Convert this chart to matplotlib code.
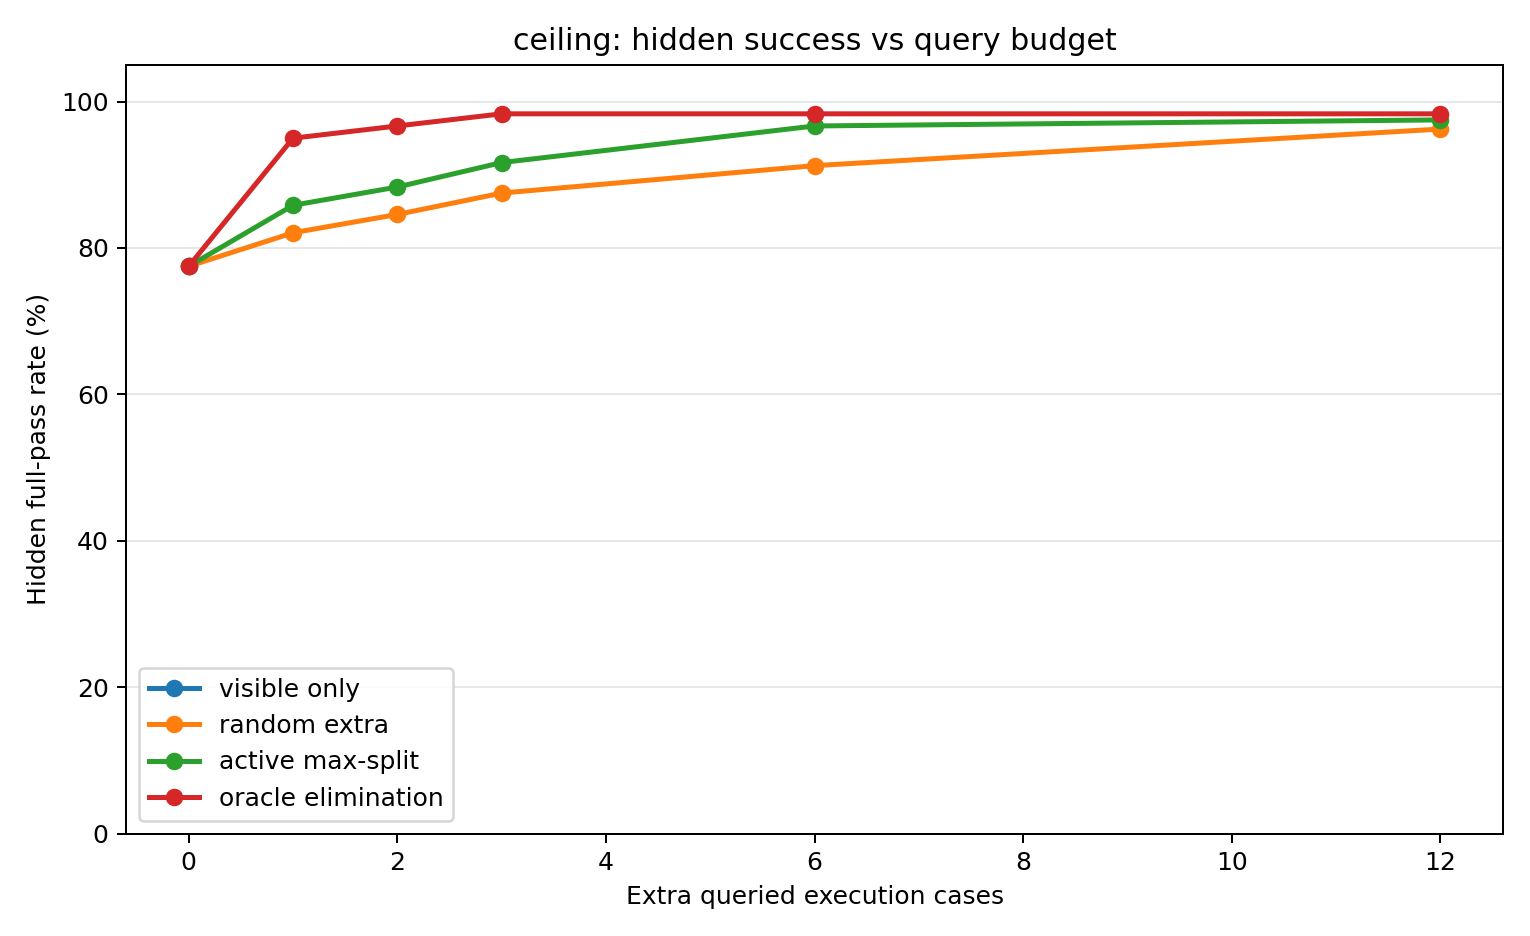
import matplotlib
matplotlib.use("Agg")
import matplotlib.pyplot as plt

budgets = [0, 1, 2, 3, 6, 12]
visible_x = [0]
visible_only = [77.5]
random_extra = [77.5, 82.08, 84.58, 87.5, 91.25, 96.25]
active_max_split = [77.5, 85.83, 88.33, 91.67, 96.67, 97.5]
oracle_elimination = [77.5, 95.0, 96.67, 98.33, 98.33, 98.33]

fig, ax = plt.subplots(figsize=(8.5, 5.2), dpi=180)
ax.plot(visible_x, visible_only, marker="o", linewidth=2, label="visible only")
ax.plot(budgets, random_extra, marker="o", linewidth=2, label="random extra")
ax.plot(budgets, active_max_split, marker="o", linewidth=2, label="active max-split")
ax.plot(budgets, oracle_elimination, marker="o", linewidth=2, label="oracle elimination")
ax.set_title("ceiling: hidden success vs query budget")
ax.set_xlabel("Extra queried execution cases")
ax.set_ylabel("Hidden full-pass rate (%)")
ax.set_ylim(0, 105)
ax.grid(True, axis="y", alpha=0.3)
ax.legend(loc="lower left")
plt.tight_layout()
fig.savefig("out.png")
